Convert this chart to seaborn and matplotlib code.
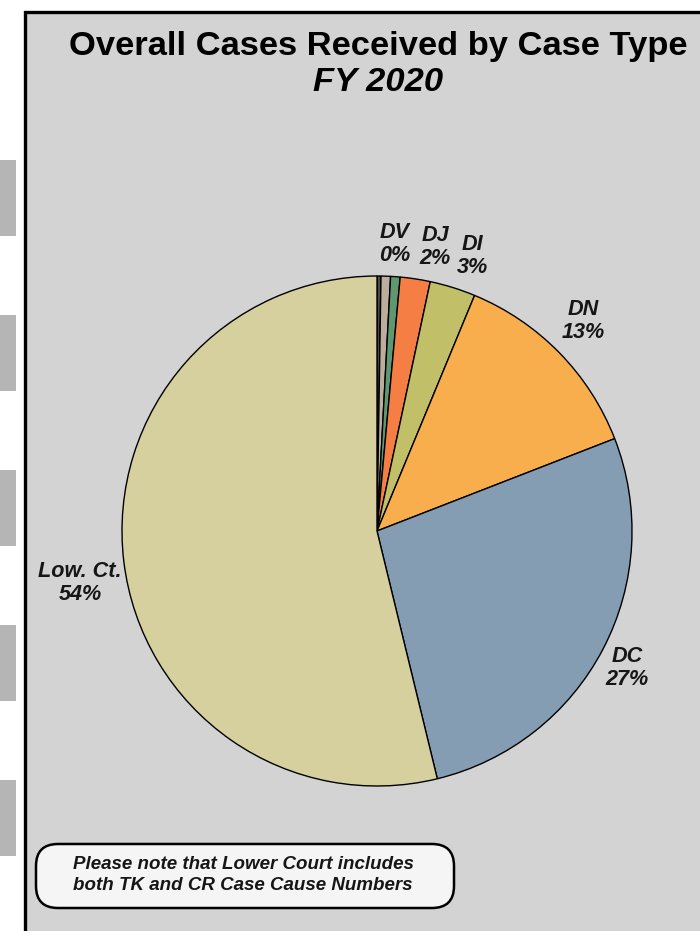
import matplotlib
matplotlib.use("Agg")
import matplotlib.pyplot as plt
from matplotlib.patches import Rectangle, FancyBboxPatch
import seaborn as sns

# Case types, clockwise from 12 o'clock, and their share of cases received (%)
case_types = ["DV", "", "", "DJ", "DI", "DN", "DC", "Low. Ct."]
shares = [0.25, 0.6, 0.6, 1.9, 2.9, 12.85, 27.1, 53.8]
slice_colors = ["#4f4a45", "#bcae9d", "#5f9870", "#f47e43",
                "#c1c069", "#f8ae4c", "#849db3", "#d6cf9e"]

title_line1 = "Overall Cases Received by Case Type"
title_line2 = "FY 2020"
note_text = "Please note that Lower Court includes\nboth TK and CR Case Cause Numbers"

sns.set_theme(style="white")
plt.rcParams["font.family"] = ["Liberation Sans", "DejaVu Sans"]

W, H = 700, 931
fig = plt.figure(figsize=(W / 100, H / 100), dpi=100)
fig.patch.set_facecolor("white")
ax = fig.add_axes([0, 0, 1, 1])


def Y(y_px):
    """Convert a top-down pixel row into the axes' upward y coordinate."""
    return H - y_px


# side tabs at the left edge
for top in (160, 315, 470, 625, 780):
    ax.add_patch(Rectangle((0, Y(top + 76)), 16, 76, facecolor="#b5b5b5",
                           edgecolor="none", zorder=0))

# grey panel with a dark frame
ax.add_patch(Rectangle((24.5, -30), 720, Y(12) + 30, facecolor="#d3d3d3",
                       edgecolor="black", linewidth=2.4, zorder=0.5,
                       clip_on=False))

# pie, clockwise from the top
cx, cy, R = 377, Y(531), 255
wedges, _ = ax.pie(shares, colors=sns.color_palette(slice_colors),
                   startangle=90, counterclock=False, center=(cx, cy),
                   radius=R,
                   wedgeprops=dict(edgecolor="black", linewidth=1.0))
for w in wedges:
    w.set_zorder(2)

# slice labels (name + rounded share)
label_pos = {
    "DV": (395, 244), "DJ": (435, 247), "DI": (472, 256),
    "DN": (583, 321), "DC": (627, 668), "Low. Ct.": (80, 583),
}
for name, val in zip(case_types, shares):
    if not name:
        continue
    x, y = label_pos[name]
    ax.text(x, Y(y), f"{name}\n{round(val):.0f}%", ha="center", va="center",
            multialignment="center", fontsize=15.6, fontweight="bold",
            fontstyle="italic", color="#161616", linespacing=1.18, zorder=3)

# title
ax.text(378, Y(55), title_line1, ha="center", va="baseline", fontsize=24.8,
        fontweight="bold", color="black", zorder=3)
ax.text(378, Y(91), title_line2, ha="center", va="baseline", fontsize=24.8,
        fontweight="bold", fontstyle="italic", color="black", zorder=3)

# footnote box
ax.add_patch(FancyBboxPatch((36, Y(908)), 418, 64,
                            boxstyle="round,pad=0,rounding_size=22",
                            facecolor="#f5f5f5", edgecolor="black",
                            linewidth=1.8, zorder=3))
ax.text(243, Y(875), note_text, ha="center", va="center",
        multialignment="center", fontsize=13.5, fontweight="bold",
        fontstyle="italic", color="#161616", linespacing=1.25, zorder=4)

ax.set_xlim(0, W)
ax.set_ylim(0, H)
ax.set_aspect("auto")
ax.axis("off")

fig.savefig("out.png", dpi=100, facecolor=fig.get_facecolor())
